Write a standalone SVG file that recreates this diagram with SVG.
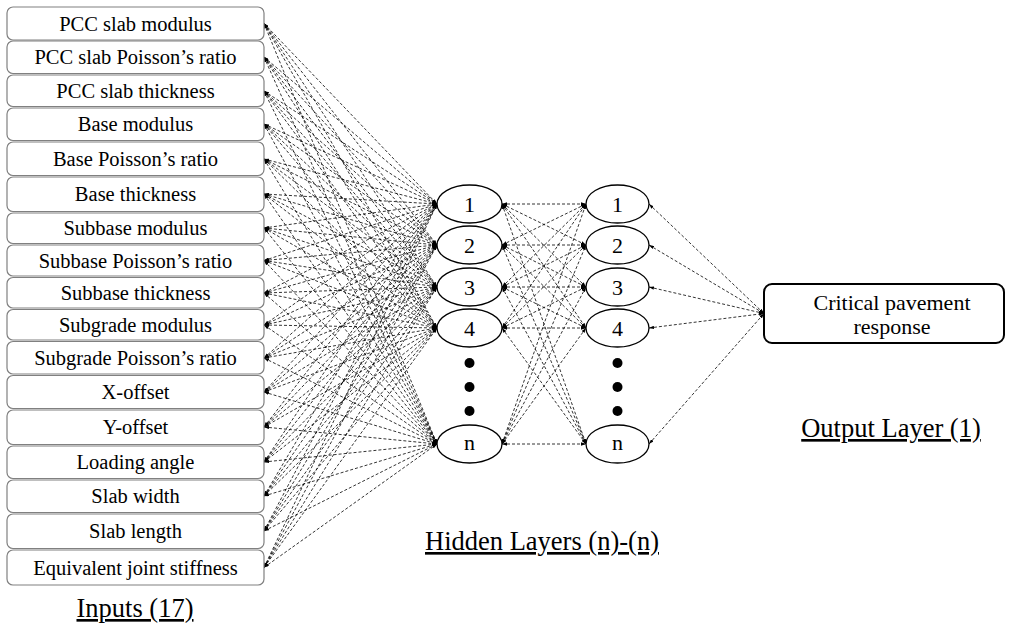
<svg xmlns="http://www.w3.org/2000/svg" width="1013" height="629" viewBox="0 0 1013 629">
  <defs>
    <marker id="ah" viewBox="0 0 6 4" refX="6" refY="2" markerWidth="5" markerHeight="3.4" markerUnits="userSpaceOnUse" orient="auto-start-reverse">
      <path d="M0,0 L6,2 L0,4 z" fill="#000"/>
    </marker>
  </defs>
  <style>
    .inbox { fill: #fff; stroke: #808080; stroke-width: 1.2; }
    .inlbl { font-family: "Liberation Serif", "Times New Roman", serif; font-size: 20.5px; fill: #000; text-anchor: middle; }
    .neuron { fill: #fff; stroke: #000; stroke-width: 1.3; }
    .nlbl { font-family: "Liberation Serif", "Times New Roman", serif; font-size: 22px; fill: #000; text-anchor: middle; }
    .dot { fill: #000; }
    .outbox { fill: #fff; stroke: #000; stroke-width: 2; }
    .outlbl { font-family: "Liberation Serif", "Times New Roman", serif; font-size: 22px; fill: #000; text-anchor: middle; }
    .layer { font-family: "Liberation Serif", "Times New Roman", serif; font-size: 26.5px; fill: #000; text-anchor: middle; text-decoration: underline; }
    .conn line { stroke: #000; stroke-width: 0.8; stroke-dasharray: 3 2; fill: none; marker-start: url(#ah); marker-end: url(#ah); }
  </style>

  <rect width="1013" height="629" fill="#fff"/>

  <!-- connectors -->
  <g id="connectors" class="conn">
    <!-- inputs to first hidden layer -->
    <line x1="264" y1="23.5" x2="437" y2="204"/><line x1="264" y1="23.5" x2="437" y2="245"/><line x1="264" y1="23.5" x2="437" y2="287"/><line x1="264" y1="23.5" x2="437" y2="328"/><line x1="264" y1="23.5" x2="437" y2="444"/>
    <line x1="264" y1="57" x2="437" y2="204"/><line x1="264" y1="57" x2="437" y2="245"/><line x1="264" y1="57" x2="437" y2="287"/><line x1="264" y1="57" x2="437" y2="328"/><line x1="264" y1="57" x2="437" y2="444"/>
    <line x1="264" y1="91" x2="437" y2="204"/><line x1="264" y1="91" x2="437" y2="245"/><line x1="264" y1="91" x2="437" y2="287"/><line x1="264" y1="91" x2="437" y2="328"/><line x1="264" y1="91" x2="437" y2="444"/>
    <line x1="264" y1="124" x2="437" y2="204"/><line x1="264" y1="124" x2="437" y2="245"/><line x1="264" y1="124" x2="437" y2="287"/><line x1="264" y1="124" x2="437" y2="328"/><line x1="264" y1="124" x2="437" y2="444"/>
    <line x1="264" y1="159" x2="437" y2="204"/><line x1="264" y1="159" x2="437" y2="245"/><line x1="264" y1="159" x2="437" y2="287"/><line x1="264" y1="159" x2="437" y2="328"/><line x1="264" y1="159" x2="437" y2="444"/>
    <line x1="264" y1="194" x2="437" y2="204"/><line x1="264" y1="194" x2="437" y2="245"/><line x1="264" y1="194" x2="437" y2="287"/><line x1="264" y1="194" x2="437" y2="328"/><line x1="264" y1="194" x2="437" y2="444"/>
    <line x1="264" y1="228" x2="437" y2="204"/><line x1="264" y1="228" x2="437" y2="245"/><line x1="264" y1="228" x2="437" y2="287"/><line x1="264" y1="228" x2="437" y2="328"/><line x1="264" y1="228" x2="437" y2="444"/>
    <line x1="264" y1="260.5" x2="437" y2="204"/><line x1="264" y1="260.5" x2="437" y2="245"/><line x1="264" y1="260.5" x2="437" y2="287"/><line x1="264" y1="260.5" x2="437" y2="328"/><line x1="264" y1="260.5" x2="437" y2="444"/>
    <line x1="264" y1="293" x2="437" y2="204"/><line x1="264" y1="293" x2="437" y2="245"/><line x1="264" y1="293" x2="437" y2="287"/><line x1="264" y1="293" x2="437" y2="328"/><line x1="264" y1="293" x2="437" y2="444"/>
    <line x1="264" y1="325" x2="437" y2="204"/><line x1="264" y1="325" x2="437" y2="245"/><line x1="264" y1="325" x2="437" y2="287"/><line x1="264" y1="325" x2="437" y2="328"/><line x1="264" y1="325" x2="437" y2="444"/>
    <line x1="264" y1="358" x2="437" y2="204"/><line x1="264" y1="358" x2="437" y2="245"/><line x1="264" y1="358" x2="437" y2="287"/><line x1="264" y1="358" x2="437" y2="328"/><line x1="264" y1="358" x2="437" y2="444"/>
    <line x1="264" y1="392" x2="437" y2="204"/><line x1="264" y1="392" x2="437" y2="245"/><line x1="264" y1="392" x2="437" y2="287"/><line x1="264" y1="392" x2="437" y2="328"/><line x1="264" y1="392" x2="437" y2="444"/>
    <line x1="264" y1="427" x2="437" y2="204"/><line x1="264" y1="427" x2="437" y2="245"/><line x1="264" y1="427" x2="437" y2="287"/><line x1="264" y1="427" x2="437" y2="328"/><line x1="264" y1="427" x2="437" y2="444"/>
    <line x1="264" y1="462" x2="437" y2="204"/><line x1="264" y1="462" x2="437" y2="245"/><line x1="264" y1="462" x2="437" y2="287"/><line x1="264" y1="462" x2="437" y2="328"/><line x1="264" y1="462" x2="437" y2="444"/>
    <line x1="264" y1="496" x2="437" y2="204"/><line x1="264" y1="496" x2="437" y2="245"/><line x1="264" y1="496" x2="437" y2="287"/><line x1="264" y1="496" x2="437" y2="328"/><line x1="264" y1="496" x2="437" y2="444"/>
    <line x1="264" y1="531" x2="437" y2="204"/><line x1="264" y1="531" x2="437" y2="245"/><line x1="264" y1="531" x2="437" y2="287"/><line x1="264" y1="531" x2="437" y2="328"/><line x1="264" y1="531" x2="437" y2="444"/>
    <line x1="264" y1="567.5" x2="437" y2="204"/><line x1="264" y1="567.5" x2="437" y2="245"/><line x1="264" y1="567.5" x2="437" y2="287"/><line x1="264" y1="567.5" x2="437" y2="328"/><line x1="264" y1="567.5" x2="437" y2="444"/>
    <!-- first hidden layer to second hidden layer -->
    <line x1="502" y1="204" x2="586" y2="204"/><line x1="502" y1="204" x2="586" y2="245"/><line x1="502" y1="204" x2="586" y2="287"/><line x1="502" y1="204" x2="586" y2="328"/><line x1="502" y1="204" x2="586" y2="444"/>
    <line x1="502" y1="245" x2="586" y2="204"/><line x1="502" y1="245" x2="586" y2="245"/><line x1="502" y1="245" x2="586" y2="287"/><line x1="502" y1="245" x2="586" y2="328"/><line x1="502" y1="245" x2="586" y2="444"/>
    <line x1="502" y1="287" x2="586" y2="204"/><line x1="502" y1="287" x2="586" y2="245"/><line x1="502" y1="287" x2="586" y2="287"/><line x1="502" y1="287" x2="586" y2="328"/><line x1="502" y1="287" x2="586" y2="444"/>
    <line x1="502" y1="328" x2="586" y2="204"/><line x1="502" y1="328" x2="586" y2="245"/><line x1="502" y1="328" x2="586" y2="287"/><line x1="502" y1="328" x2="586" y2="328"/><line x1="502" y1="328" x2="586" y2="444"/>
    <line x1="502" y1="444" x2="586" y2="204"/><line x1="502" y1="444" x2="586" y2="245"/><line x1="502" y1="444" x2="586" y2="287"/><line x1="502" y1="444" x2="586" y2="328"/><line x1="502" y1="444" x2="586" y2="444"/>
    <!-- second hidden layer to output -->
    <line x1="649" y1="204" x2="764" y2="313.5"/><line x1="649" y1="245" x2="764" y2="313.5"/><line x1="649" y1="287" x2="764" y2="313.5"/><line x1="649" y1="328" x2="764" y2="313.5"/><line x1="649" y1="444" x2="764" y2="313.5"/>
  </g>

  <!-- input nodes -->
  <g id="in-01"><rect class="inbox" x="7" y="7" width="257" height="33" rx="6"/><text class="inlbl" x="135.5" y="30.5">PCC slab modulus</text></g>
  <g id="in-02"><rect class="inbox" x="7" y="41" width="257" height="32.5" rx="6"/><text class="inlbl" x="135.5" y="64">PCC slab Poisson’s ratio</text></g>
  <g id="in-03"><rect class="inbox" x="7" y="75" width="257" height="31.5" rx="6"/><text class="inlbl" x="135.5" y="98">PCC slab thickness</text></g>
  <g id="in-04"><rect class="inbox" x="7" y="108" width="257" height="32.5" rx="6"/><text class="inlbl" x="135.5" y="131">Base modulus</text></g>
  <g id="in-05"><rect class="inbox" x="7" y="142" width="257" height="33.5" rx="6"/><text class="inlbl" x="135.5" y="166">Base Poisson’s ratio</text></g>
  <g id="in-06"><rect class="inbox" x="7" y="177" width="257" height="34.5" rx="6"/><text class="inlbl" x="135.5" y="201">Base thickness</text></g>
  <g id="in-07"><rect class="inbox" x="7" y="213" width="257" height="30.5" rx="6"/><text class="inlbl" x="135.5" y="235">Subbase modulus</text></g>
  <g id="in-08"><rect class="inbox" x="7" y="245" width="257" height="31" rx="6"/><text class="inlbl" x="135.5" y="267.5">Subbase Poisson’s ratio</text></g>
  <g id="in-09"><rect class="inbox" x="7" y="277.5" width="257" height="30.5" rx="6"/><text class="inlbl" x="135.5" y="300">Subbase thickness</text></g>
  <g id="in-10"><rect class="inbox" x="7" y="309.5" width="257" height="30.5" rx="6"/><text class="inlbl" x="135.5" y="332">Subgrade modulus</text></g>
  <g id="in-11"><rect class="inbox" x="7" y="341.5" width="257" height="32.5" rx="6"/><text class="inlbl" x="135.5" y="365">Subgrade Poisson’s ratio</text></g>
  <g id="in-12"><rect class="inbox" x="7" y="375.5" width="257" height="33" rx="6"/><text class="inlbl" x="135.5" y="399">X-offset</text></g>
  <g id="in-13"><rect class="inbox" x="7" y="410" width="257" height="34.5" rx="6"/><text class="inlbl" x="135.5" y="434">Y-offset</text></g>
  <g id="in-14"><rect class="inbox" x="7" y="446" width="257" height="32.5" rx="6"/><text class="inlbl" x="135.5" y="469">Loading angle</text></g>
  <g id="in-15"><rect class="inbox" x="7" y="480" width="257" height="32.5" rx="6"/><text class="inlbl" x="135.5" y="503">Slab width</text></g>
  <g id="in-16"><rect class="inbox" x="7" y="514" width="257" height="34.5" rx="6"/><text class="inlbl" x="135.5" y="538">Slab length</text></g>
  <g id="in-17"><rect class="inbox" x="7" y="550" width="257" height="35" rx="6"/><text class="inlbl" x="135.5" y="574.5">Equivalent joint stiffness</text></g>

  <!-- first hidden layer -->
  <g id="h1-1"><ellipse class="neuron" cx="469.5" cy="204" rx="32.5" ry="19"/><text class="nlbl" x="469.5" y="211.5">1</text></g>
  <g id="h1-2"><ellipse class="neuron" cx="469.5" cy="245" rx="32.5" ry="19"/><text class="nlbl" x="469.5" y="252.5">2</text></g>
  <g id="h1-3"><ellipse class="neuron" cx="469.5" cy="287" rx="32.5" ry="19"/><text class="nlbl" x="469.5" y="294.5">3</text></g>
  <g id="h1-4"><ellipse class="neuron" cx="469.5" cy="328" rx="32.5" ry="19"/><text class="nlbl" x="469.5" y="335.5">4</text></g>
  <g id="h1-dots"><circle class="dot" cx="469.5" cy="363" r="5"/><circle class="dot" cx="469.5" cy="387" r="5"/><circle class="dot" cx="469.5" cy="411" r="5"/></g>
  <g id="h1-n"><ellipse class="neuron" cx="469.5" cy="444" rx="32.5" ry="19"/><text class="nlbl" x="469.5" y="450">n</text></g>

  <!-- second hidden layer -->
  <g id="h2-1"><ellipse class="neuron" cx="617.5" cy="204" rx="31.5" ry="19"/><text class="nlbl" x="617.5" y="211.5">1</text></g>
  <g id="h2-2"><ellipse class="neuron" cx="617.5" cy="245" rx="31.5" ry="19"/><text class="nlbl" x="617.5" y="252.5">2</text></g>
  <g id="h2-3"><ellipse class="neuron" cx="617.5" cy="287" rx="31.5" ry="19"/><text class="nlbl" x="617.5" y="294.5">3</text></g>
  <g id="h2-4"><ellipse class="neuron" cx="617.5" cy="328" rx="31.5" ry="19"/><text class="nlbl" x="617.5" y="335.5">4</text></g>
  <g id="h2-dots"><circle class="dot" cx="617.5" cy="363" r="5"/><circle class="dot" cx="617.5" cy="387" r="5"/><circle class="dot" cx="617.5" cy="411" r="5"/></g>
  <g id="h2-n"><ellipse class="neuron" cx="617.5" cy="444" rx="31.5" ry="19"/><text class="nlbl" x="617.5" y="450">n</text></g>

  <!-- output node -->
  <g id="output"><rect class="outbox" x="764" y="284" width="240" height="59" rx="8"/><text class="outlbl" x="892" y="310">Critical pavement</text><text class="outlbl" x="892" y="334">response</text></g>

  <!-- layer captions -->
  <g id="captions">
    <text class="layer" x="135" y="617">Inputs (17)</text>
    <text class="layer" x="542" y="550">Hidden Layers (n)-(n)</text>
    <text class="layer" x="891" y="437">Output Layer (1)</text>
  </g>
</svg>
